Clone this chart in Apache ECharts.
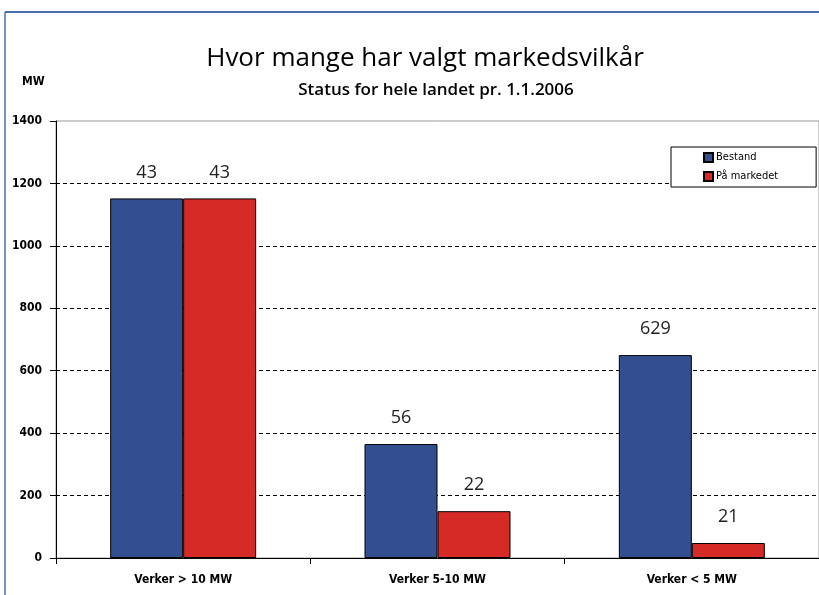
<!DOCTYPE html>
<html>
<head>
<meta charset="utf-8">
<script src="https://cdn.jsdelivr.net/npm/echarts@6/dist/echarts.min.js"></script>
<style>
html,body{margin:0;padding:0;background:#fff;}
#chart{width:819px;height:595px;}
</style>
</head>
<body>
<div id="chart"></div>
<script>
var categories = ['Verker > 10 MW', 'Verker 5-10 MW', 'Verker < 5 MW'];
var seriesNames = ['Bestand', 'På markedet'];
var bestandMW = [1152, 365, 650];
var markedMW = [1152, 150, 48];
var bestandCount = [43, 56, 629];
var markedCount = [43, 22, 21];
var yTicks = [0, 200, 400, 600, 800, 1000, 1200, 1400];

var condensed = "'Liberation Sans Narrow', 'DejaVu Sans Condensed', 'Roboto', sans-serif";
var chart = echarts.init(document.getElementById('chart'), null, {renderer: 'canvas'});

function labelFor(counts) {
  return {
    show: true,
    position: 'top',
    distance: 17,
    fontSize: 18,
    color: '#222',
    fontFamily: "'Open Sans', sans-serif",
    formatter: function (p) { return counts[p.dataIndex]; }
  };
}

chart.setOption({
  backgroundColor: '#fff',
  animation: false,
  title: [
    {
      text: 'Hvor mange har valgt markedsvilkår',
      left: 420, top: 41, textAlign: 'center',
      textStyle: {fontFamily: "'Open Sans', sans-serif", fontSize: 26, fontWeight: 'normal', color: '#000'}
    },
    {
      text: 'Status for hele landet pr. 1.1.2006',
      left: 431, top: 77, textAlign: 'center',
      textStyle: {fontFamily: "'Open Sans', sans-serif", fontSize: 17, fontWeight: 600, color: '#000'}
    },
    {
      text: 'MW',
      left: 17, top: 71,
      textStyle: {fontFamily: condensed, fontSize: 12, fontWeight: 'bold', color: '#000'}
    }
  ],
  legend: {
    data: seriesNames,
    orient: 'vertical',
    left: 671, top: 147,
    padding: [5, 38, 5, 32],
    itemGap: 8,
    itemWidth: 9, itemHeight: 9,
    backgroundColor: '#fff',
    borderColor: '#000', borderWidth: 1, borderRadius: 0,
    icon: 'rect',
    textStyle: {fontFamily: condensed, fontSize: 11, color: '#000', padding: [0, 0, 0, -2]}
  },
  grid: {
    left: 56, top: 121, bottom: 37, width: 765,
    show: true, borderColor: '#999', borderWidth: 1, backgroundColor: 'transparent'
  },
  xAxis: {
    type: 'category',
    data: categories,
    axisLine: {lineStyle: {color: '#000', width: 1}},
    axisTick: {show: true, length: 6, lineStyle: {color: '#000'}},
    axisLabel: {fontFamily: condensed, fontSize: 12, fontWeight: 'bold', color: '#000', margin: 16}
  },
  yAxis: {
    type: 'value',
    min: yTicks[0], max: yTicks[yTicks.length - 1], interval: 200,
    axisLine: {show: true, lineStyle: {color: '#000', width: 1}},
    axisTick: {show: true, length: 6, lineStyle: {color: '#000'}},
    axisLabel: {
      fontFamily: condensed, fontSize: 12, fontWeight: 'bold', color: '#000', margin: 14,
      formatter: function (v) { return String(v); }
    },
    splitLine: {
      show: true,
      lineStyle: {
        color: ['#000', '#000', '#000', '#000', '#000', '#000', '#000', 'rgba(0,0,0,0)'],
        type: [4, 3], width: 1
      }
    }
  },
  series: [
    {
      name: seriesNames[0], type: 'bar', data: bestandMW,
      barWidth: 73, barGap: '0%',
      itemStyle: {color: '#344f8f', borderColor: '#000', borderWidth: 1},
      label: labelFor(bestandCount)
    },
    {
      name: seriesNames[1], type: 'bar', data: markedMW,
      barWidth: 73, barGap: '0%',
      itemStyle: {color: '#d62a27', borderColor: '#000', borderWidth: 1},
      label: labelFor(markedCount)
    }
  ],
  graphic: [
    {type: 'line', shape: {x1: 5, y1: 12, x2: 819, y2: 12}, style: {stroke: '#4a6fae', lineWidth: 2}, z: 100},
    {type: 'line', shape: {x1: 5, y1: 12, x2: 5, y2: 595}, style: {stroke: '#4a6fae', lineWidth: 1.5}, z: 100}
  ]
});
</script>
</body>
</html>
